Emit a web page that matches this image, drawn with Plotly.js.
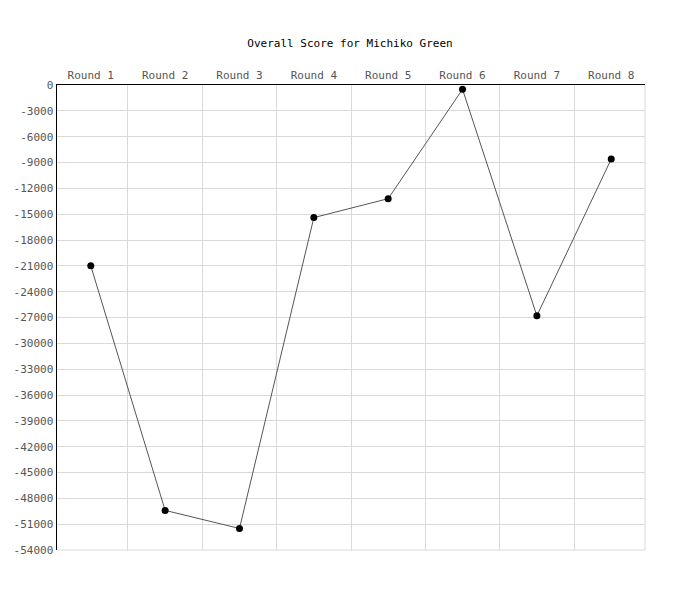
<!DOCTYPE html>
<html>
<head>
<meta charset="utf-8">
<script src="https://cdn.plot.ly/plotly-3.0.1.min.js"></script>
<style>
  html, body { margin: 0; padding: 0; background: #fff; }
  #chart { width: 700px; height: 600px; }
</style>
</head>
<body>
<div id="chart"></div>
<script>
  // values
  const rounds = ['Round 1', 'Round 2', 'Round 3', 'Round 4', 'Round 5', 'Round 6', 'Round 7', 'Round 8'];
  const scores = [-21000, -49400, -51500, -15400, -13200, -500, -26800, -8600];
  const yTicks = [0, -3000, -6000, -9000, -12000, -15000, -18000, -21000, -24000, -27000,
    -30000, -33000, -36000, -39000, -42000, -45000, -48000, -51000, -54000];

  const mono = 'DejaVu Sans Mono, monospace';

  const trace = {
    x: rounds,
    y: scores,
    type: 'scatter',
    mode: 'lines+markers',
    line: { color: '#555555', width: 1 },
    marker: { color: '#000000', size: 7 },
    hoverinfo: 'x+y',
  };

  const layout = {
    width: 700,
    height: 600,
    paper_bgcolor: '#ffffff',
    plot_bgcolor: '#ffffff',
    margin: { l: 57, r: 55, t: 85, b: 50 },
    showlegend: false,
    font: { family: mono, size: 11, color: '#555555' },
    title: {
      text: 'Overall Score for Michiko Green',
      font: { family: mono, size: 11, color: '#000000' },
      x: 0.5,
      xanchor: 'center',
      y: 1 - 43 / 600,
      yanchor: 'middle',
    },
    xaxis: {
      type: 'category',
      side: 'top',
      tickson: 'boundaries',
      ticks: '',
      showgrid: true,
      gridcolor: '#d9d9d9',
      gridwidth: 1,
      showline: true,
      linecolor: '#000000',
      linewidth: 1.5,
      mirror: false,
      zeroline: false,
      tickfont: { family: mono, size: 11, color: '#555555' },
      fixedrange: true,
    },
    yaxis: {
      range: [-54000, 0],
      tickvals: yTicks,
      ticktext: yTicks.map(String),
      ticks: '',
      showgrid: true,
      gridcolor: '#d9d9d9',
      gridwidth: 1,
      showline: true,
      linecolor: '#000000',
      linewidth: 1.5,
      zeroline: false,
      tickfont: { family: mono, size: 11, color: '#555555' },
      fixedrange: true,
    },
    shapes: [
      // right and bottom border lines in the same light grey as the grid
      { type: 'line', xref: 'paper', yref: 'paper', x0: 1, x1: 1, y0: 0, y1: 1,
        line: { color: '#d9d9d9', width: 1 }, layer: 'below' },
      { type: 'line', xref: 'paper', yref: 'paper', x0: 0, x1: 1, y0: 0, y1: 0,
        line: { color: '#d9d9d9', width: 1 }, layer: 'below' },
    ],
  };

  Plotly.newPlot('chart', [trace], layout, { displayModeBar: false, staticPlot: true });
</script>
</body>
</html>
